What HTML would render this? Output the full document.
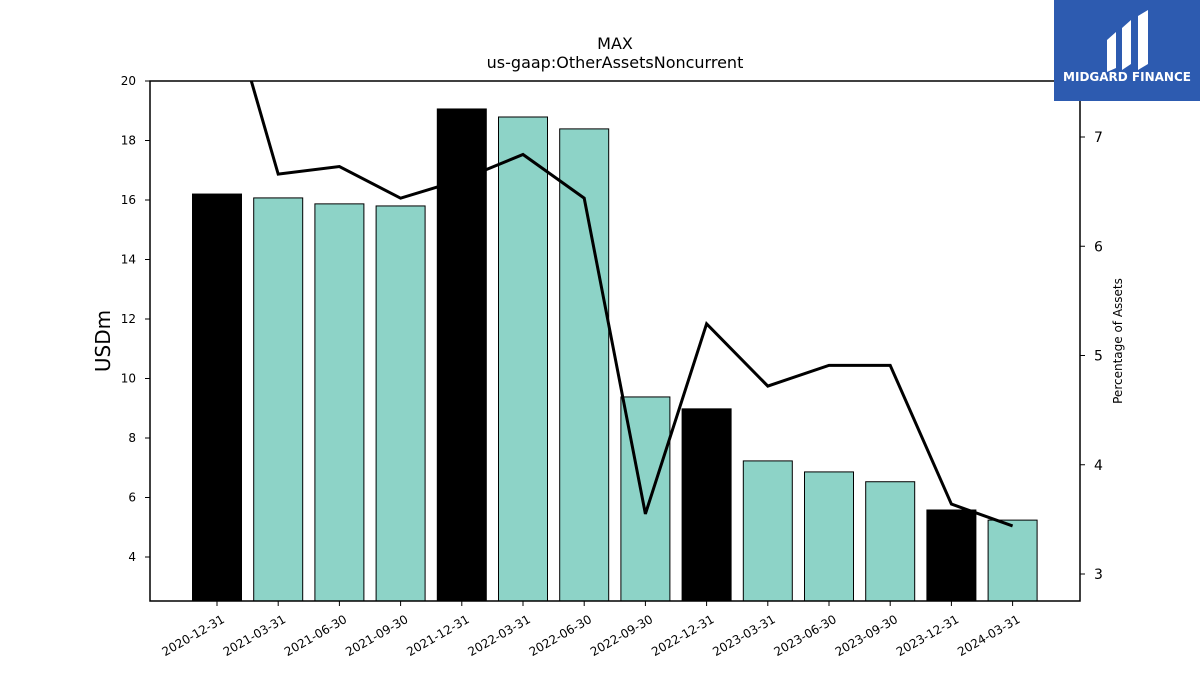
<!DOCTYPE html>
<html><head><meta charset="utf-8"><style>
body{margin:0;background:#fff;font-family:"DejaVu Sans","Liberation Sans",sans-serif}
</style></head><body>
<svg id="chart" width="1200" height="675" xmlns="http://www.w3.org/2000/svg" style="display:block">
<rect width="1200" height="675" fill="#fff"/>
<text x="615" y="49" text-anchor="middle" font-size="16">MAX</text>
<text x="615" y="68" text-anchor="middle" font-size="16">us-gaap:OtherAssetsNoncurrent</text>
<defs><clipPath id="pc"><rect x="150" y="81" width="930" height="520"/></clipPath></defs>
<g id="bars" clip-path="url(#pc)"></g>
<g id="line" clip-path="url(#pc)"></g>
<rect x="150" y="81" width="930" height="520" fill="none" stroke="#000" stroke-width="1.5"/>
<g id="axes" font-size="12"></g>
<text transform="translate(110,341) rotate(-90)" text-anchor="middle" font-size="20">USDm</text>
<text transform="translate(1122,341) rotate(-90)" text-anchor="middle" font-size="12">Percentage of Assets</text>
<g>
<rect x="1054" y="0" width="146" height="101" fill="#2d5bb0"/>
<path d="M1107 40 L1116 32 L1116 68 L1107 72 Z" fill="#fff"/>
<path d="M1122 28 L1131 20 L1131 64 L1122 70 Z" fill="#fff"/>
<path d="M1138 16 L1148 10 L1148 64 L1138 70 Z" fill="#fff"/>
<text x="1127" y="81" text-anchor="middle" font-size="12" font-weight="bold" fill="#fff">MIDGARD FINANCE</text>
</g>
</svg>
<script>
const categories=["2020-12-31","2021-03-31","2021-06-30","2021-09-30","2021-12-31","2022-03-31","2022-06-30","2022-09-30","2022-12-31","2023-03-31","2023-06-30","2023-09-30","2023-12-31","2024-03-31"];
const barValues=[16.2,16.07,15.87,15.8,19.06,18.79,18.39,9.38,8.98,7.23,6.86,6.53,5.58,5.24];
const pctValues=[8.6,6.66,6.73,6.44,6.61,6.84,6.44,3.55,5.29,4.72,4.91,4.91,3.64,3.44];
const leftTicks=[4,6,8,10,12,14,16,18,20];
const rightTicks=[3,4,5,6,7];
const NS="http://www.w3.org/2000/svg";
const yL=v=>81+(20-v)*29.75;
const yR=v=>137+(7-v)*109.25;
const xC=i=>217+i*61.2;
function mk(t,a,p){const e=document.createElementNS(NS,t);for(const k in a)e.setAttribute(k,a[k]);p.appendChild(e);return e;}
const bars=document.getElementById('bars'),axes=document.getElementById('axes'),line=document.getElementById('line');
barValues.forEach((v,i)=>{
 const r=mk('rect',{x:xC(i)-24.5,y:yL(v),width:49,height:601-yL(v)+2,fill:(i%4===0)?'#000':'#8dd3c7',stroke:'#000','stroke-width':1},bars);
 
 
 const t=mk('line',{x1:xC(i),x2:xC(i),y1:601,y2:606,stroke:'#000'},axes);
 
 
 const l=mk('text',{transform:`translate(${xC(i)+4},${614}) rotate(-30)`,'text-anchor':'end','dominant-baseline':'hanging'},axes);
 l.textContent=categories[i];
 
 
});
const pl=mk('polyline',{points:pctValues.map((v,i)=>xC(i)+','+yR(v)).join(' '),fill:'none',stroke:'#000','stroke-width':3},line);


leftTicks.forEach(v=>{
 const t=mk('line',{x1:145,x2:150,y1:yL(v),y2:yL(v),stroke:'#000'},axes);
 
 
 const l=mk('text',{x:136,y:yL(v)+4,'text-anchor':'end'},axes);l.textContent=v;
 
 
});
rightTicks.forEach(v=>{
 const t=mk('line',{x1:1080,x2:1085,y1:yR(v),y2:yR(v),stroke:'#000'},axes);
 
 
 const l=mk('text',{x:1094,y:yR(v)+5,'font-size':14},axes);l.textContent=v;
 
 
});
</script>
</body></html>
